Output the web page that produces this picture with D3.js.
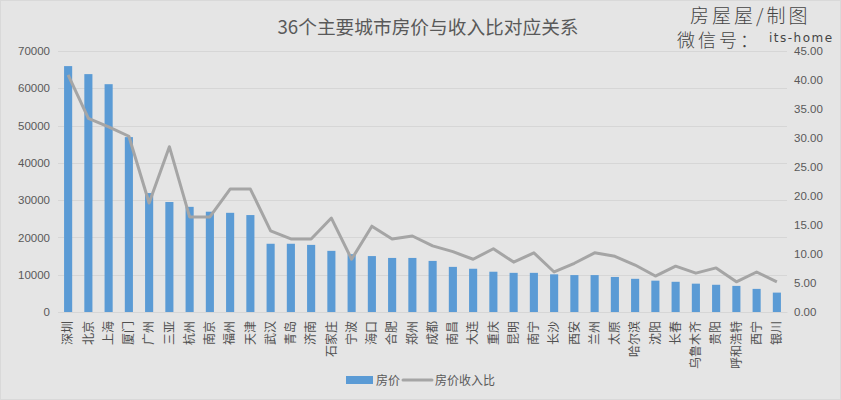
<!DOCTYPE html>
<html>
<head>
<meta charset="utf-8">
<script src="https://cdn.jsdelivr.net/npm/d3@7"></script>
<style>
  html, body { margin: 0; padding: 0; background: #e5e5e5; }
  svg { display: block; }
  text { font-family: "Noto Sans CJK SC", sans-serif; }
  .tick text.num { font-family: "Liberation Sans", sans-serif; }
</style>
</head>
<body>
<svg id="chart"></svg>
<script>
const cities = ['深圳','北京','上海','厦门','广州','三亚','杭州','南京','福州','天津','武汉','青岛','济南','石家庄','宁波','海口','合肥','郑州','成都','南昌','大连','重庆','昆明','南宁','长沙','西安','兰州','太原','哈尔滨','沈阳','长春','乌鲁木齐','贵阳','呼和浩特','西宁','银川'];
const prices = [65950,63800,61100,46900,31900,29500,28200,26900,26600,26000,18300,18300,18000,16400,15500,15000,14500,14500,13700,12100,11600,10800,10500,10500,10100,9900,9900,9400,8900,8400,8100,7600,7300,7000,6200,5200];
const ratios = [40.9,33.4,31.9,30.3,18.8,28.5,16.4,16.4,21.2,21.2,14,12.6,12.6,16.2,9.1,14.8,12.6,13.1,11.4,10.4,9.1,10.9,8.6,10.2,6.9,8.4,10.2,9.6,8.1,6.2,7.9,6.7,7.6,5.2,6.9,5.2];
const priceTicks = [0,10000,20000,30000,40000,50000,60000,70000];
const ratioTicks = [0,5,10,15,20,25,30,35,40,45];

const width = 841, height = 400;
const plotLeft = 58, plotRight = 787, plotTop = 51, plotBottom = 312;
const textColor = '#595959';

const svg = d3.select('#chart').attr('width', width).attr('height', height);

// frame
svg.append('rect')
  .attr('x', 0.5).attr('y', 0.5)
  .attr('width', width - 1).attr('height', height - 1)
  .attr('fill', '#e5e5e5')
  .attr('stroke', '#d9d9d9');

const x = d3.scaleBand().domain(cities).range([plotLeft, plotRight]).paddingInner(0.6).paddingOuter(0.3);
const yPrice = d3.scaleLinear().domain([0, 70000]).range([plotBottom, plotTop]);
const yRatio = d3.scaleLinear().domain([0, 45]).range([plotBottom, plotTop]);
const cx = d => x(d) + x.bandwidth() / 2;

// gridlines
svg.append('g').selectAll('line')
  .data(priceTicks)
  .enter().append('line')
  .attr('x1', plotLeft).attr('x2', plotRight)
  .attr('y1', d => Math.round(yPrice(d)) + 0.5)
  .attr('y2', d => Math.round(yPrice(d)) + 0.5)
  .attr('stroke', '#d6d6d6');

// bars
svg.append('g').selectAll('rect')
  .data(cities)
  .enter().append('rect')
  .attr('x', d => x(d))
  .attr('y', (d, i) => yPrice(prices[i]))
  .attr('width', x.bandwidth())
  .attr('height', (d, i) => plotBottom - yPrice(prices[i]))
  .attr('fill', '#5b9bd5');

// ratio line
const ratioLine = d3.line()
  .x((d, i) => cx(cities[i]))
  .y(d => yRatio(d));
svg.append('path')
  .datum(ratios)
  .attr('d', ratioLine)
  .attr('fill', 'none')
  .attr('stroke', '#a5a5a5')
  .attr('stroke-width', 3)
  .attr('stroke-linejoin', 'round');

// axes
const styleAxis = g => {
  g.select('.domain').remove();
  g.selectAll('.tick line').remove();
  g.selectAll('.tick text')
    .attr('class', 'num')
    .attr('fill', textColor)
    .style('font-size', '11.5px');
};

svg.append('g')
  .attr('transform', `translate(${plotLeft - 8},0)`)
  .call(d3.axisLeft(yPrice).tickValues(priceTicks).tickFormat(d3.format('d')).tickSize(0).tickPadding(0))
  .call(styleAxis);

svg.append('g')
  .attr('transform', `translate(${plotRight + 7},0)`)
  .call(d3.axisRight(yRatio).tickValues(ratioTicks).tickFormat(d3.format('.2f')).tickSize(0).tickPadding(0))
  .call(styleAxis);

const xAxis = svg.append('g')
  .attr('transform', `translate(0,${plotBottom})`)
  .call(d3.axisBottom(x).tickSize(0));
xAxis.select('.domain').attr('stroke', '#d6d6d6');
xAxis.selectAll('.tick text')
  .attr('fill', '#505050')
  .style('font-size', '12px')
  .attr('text-anchor', 'end')
  .attr('transform', 'rotate(-90)')
  .attr('x', -9)
  .attr('y', 0)
  .attr('dy', '0.35em');

// title
svg.append('text')
  .attr('x', 428).attr('y', 34)
  .attr('text-anchor', 'middle')
  .attr('fill', textColor)
  .style('font-size', '18.7px')
  .text('36个主要城市房价与收入比对应关系');

// watermark
svg.append('text')
  .attr('x', 690).attr('y', 23)
  .attr('fill', '#444')
  .style('font-size', '19px')
  .style('font-weight', '300')
  .style('letter-spacing', '3px')
  .text('房屋屋/制图');
svg.append('text')
  .attr('x', 677).attr('y', 47)
  .attr('fill', '#444')
  .style('font-size', '18px')
  .style('font-weight', '300')
  .style('letter-spacing', '3px')
  .text('微信号：');
svg.append('text')
  .attr('x', 769).attr('y', 42)
  .attr('fill', '#444')
  .style('font-family', '"DejaVu Sans", sans-serif')
  .style('font-size', '12px')
  .style('letter-spacing', '1.5px')
  .text('its-home');

// legend
const legend = svg.append('g');
legend.append('rect')
  .attr('x', 346).attr('y', 376)
  .attr('width', 27).attr('height', 8)
  .attr('fill', '#5b9bd5');
legend.append('text')
  .attr('x', 376).attr('y', 385)
  .attr('fill', textColor)
  .style('font-size', '12px')
  .text('房价');
legend.append('line')
  .attr('x1', 403).attr('x2', 432)
  .attr('y1', 380).attr('y2', 380)
  .attr('stroke', '#a5a5a5')
  .attr('stroke-width', 3)
  .attr('stroke-linecap', 'round');
legend.append('text')
  .attr('x', 435).attr('y', 385)
  .attr('fill', textColor)
  .style('font-size', '12px')
  .text('房价收入比');
</script>
</body>
</html>
